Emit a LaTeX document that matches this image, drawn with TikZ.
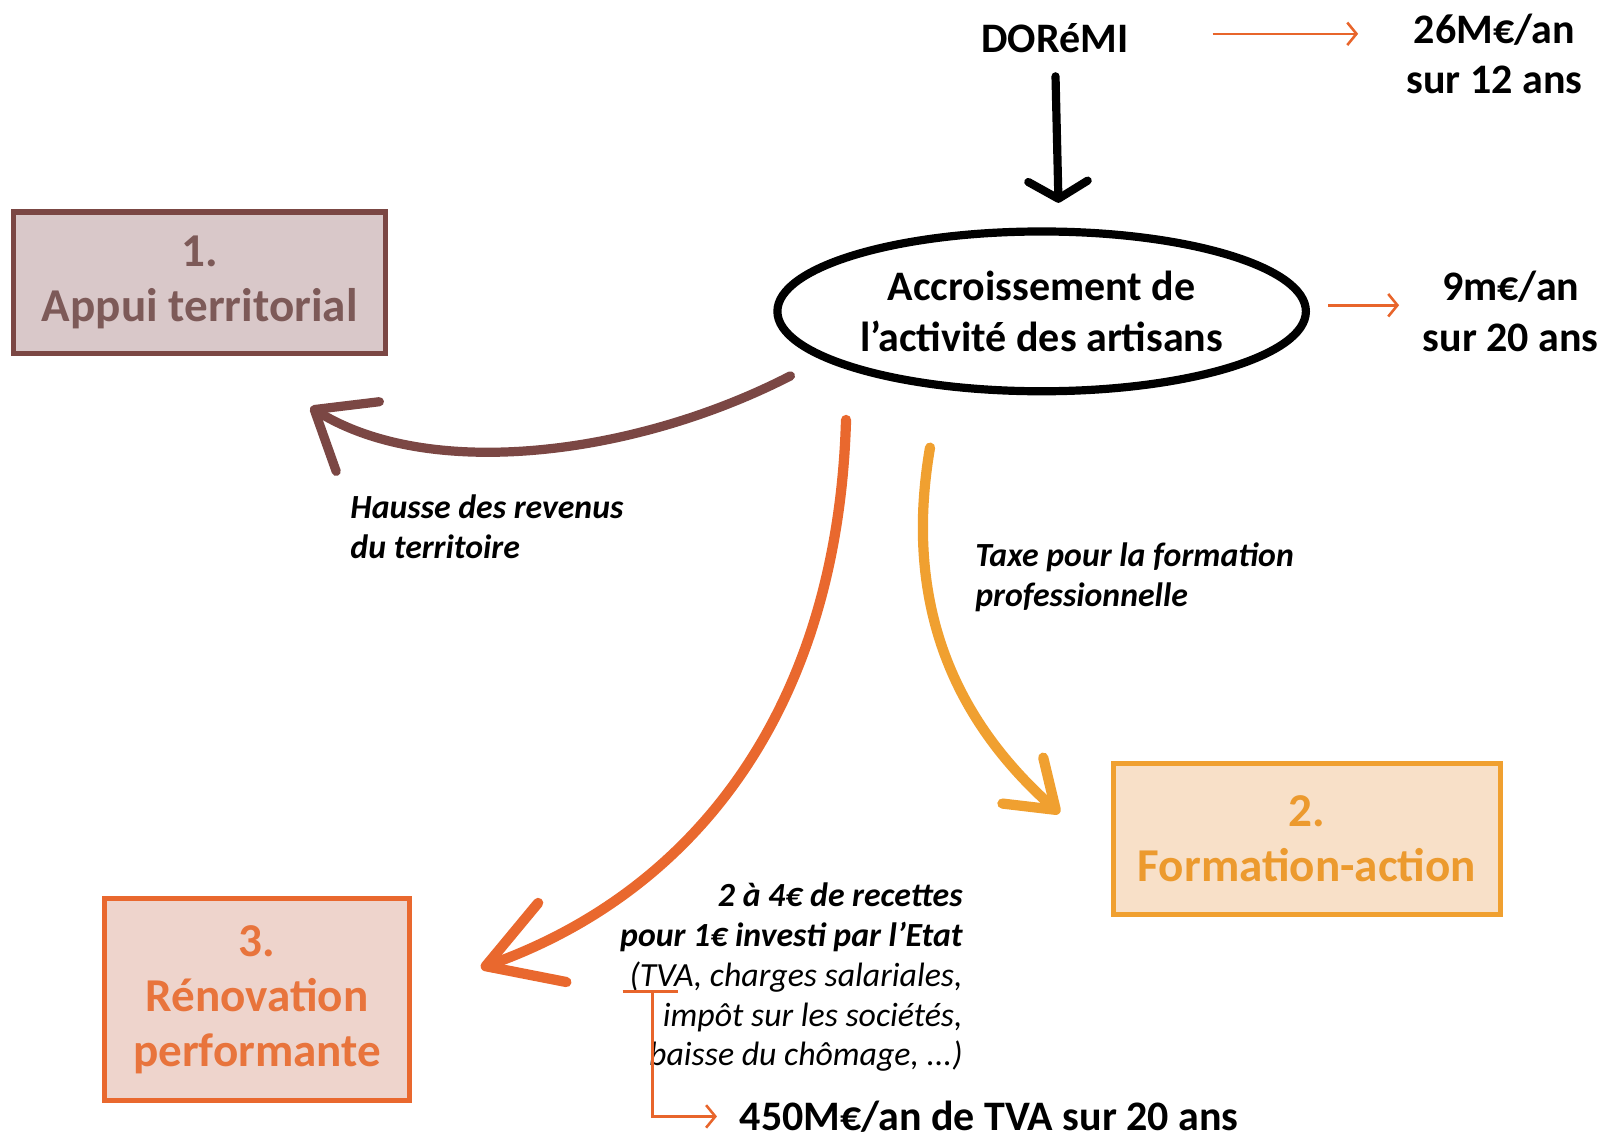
\documentclass[tikz,border=0pt]{standalone}
\usepackage{fontspec}
\setmainfont{Carlito}
\usetikzlibrary{arrows.meta,shapes.geometric}

\definecolor{appuiline}{HTML}{7B4744}
\definecolor{appuifill}{HTML}{D9C8C9}
\definecolor{appuitext}{HTML}{7D5A58}
\definecolor{formline}{HTML}{F0A030}
\definecolor{formfill}{HTML}{F8E0C8}
\definecolor{formtext}{HTML}{EC9A2E}
\definecolor{renoline}{HTML}{E9682E}
\definecolor{renofill}{HTML}{EED4CC}
\definecolor{renotext}{HTML}{E8743C}
\definecolor{gainline}{HTML}{E8652B}

\tikzset{
  box/.style={draw, line width=5pt, align=center, inner sep=0pt,
    font=\fontsize{46}{54}\selectfont\bfseries},
  amount/.style={align=center, inner sep=0pt,
    font=\fontsize{41}{49}\selectfont\bfseries},
  note/.style={inner sep=0pt, font=\fontsize{33}{39}\selectfont\bfseries\itshape},
  gain/.style={draw=gainline, line width=2.5pt, -{Straight Barb[length=9pt,width=22pt]}},
}

\begin{document}
\begin{tikzpicture}[x=1pt, y=-1pt]
\useasboundingbox (0,0) rectangle (1568,1112);

% the three boxes
\node[box, draw=appuiline, fill=appuifill, text=appuitext,
  minimum width=363pt, minimum height=138pt] (appui) at (195,276) {1.\\Appui territorial};
\node[box, draw=formline, fill=formfill, text=formtext,
  minimum width=378pt, minimum height=147pt] (form) at (1276,819) {2.\\Formation-action};
\node[box, draw=renoline, fill=renofill, text=renotext,
  minimum width=298pt, minimum height=197pt] (reno) at (251,976) {3.\\Rénovation\\performante};

% centre
\node[amount] (dor) at (1030,37) {DORéMI};
\node[ellipse, draw, line width=8pt, minimum width=516pt, minimum height=156pt,
  inner sep=0pt, align=center, font=\fontsize{41}{49}\selectfont\bfseries]
  (ell) at (1017,304) {Accroissement de\\l’activité des artisans};

% amounts
\node[amount] (dorgain) at (1459,53) {26M€/an\\sur 12 ans};
\node[amount] (artgain) at (1475,304) {9m€/an\\sur 20 ans};
\node[amount, anchor=west] (tvagain) at (722,1090) {450M€/an de TVA sur 20 ans};

% comments on the arrows
\node[note, anchor=west, align=left] (hausse) at (342,514) {Hausse des revenus\\du territoire};
\node[note, anchor=west, align=left] (taxe) at (952,564) {Taxe pour la formation\\professionnelle};
\node[note, anchor=east, align=right, font=\fontsize{33}{39}\selectfont\itshape]
  (recettes) at (940,954) {\textbf{2 à 4€ de recettes}\\\textbf{pour 1€ investi par l’Etat}\\(TVA, charges salariales,\\impôt sur les sociétés,\\baisse du chômage, ...)};

% arrows
\draw[line width=8pt, line cap=round, -{Straight Barb[length=17pt,width=58pt,round]},
  shorten <=23pt, shorten >=24pt] (dor.south) -- ([xshift=17pt]ell.north);

\draw[appuiline, line width=9pt, line cap=round, -{Straight Barb[length=50pt,width=80pt,round]}]
  ([xshift=-60pt,yshift=-5pt]ell.south west) .. controls (620,445) and (420,470) ..
  ([xshift=-76pt,yshift=-50pt]appui.south east);

\draw[renoline, line width=10pt, line cap=round, -{Straight Barb[length=69pt,width=82pt,round]}]
  ([xshift=-191pt,yshift=-24pt]ell.south) .. controls (818,690) and (680,870) ..
  ([xshift=67pt,yshift=31pt]reno.east);

\draw[formline, line width=10pt, line cap=round, -{Straight Barb[length=43pt,width=60pt,round]}]
  ([xshift=-109pt,yshift=-51pt]ell.south) .. controls (880,600) and (940,710) ..
  ([xshift=-50pt,yshift=25pt]form.west);

% gains
\draw[gain, shorten <=82pt, shorten >=47pt] ([yshift=4pt]dor.east) -- ([yshift=4pt]dor.east -| dorgain.west);
\draw[gain, shorten <=18pt, shorten >=23pt] ([yshift=6pt]ell.east) -- ([yshift=6pt]ell.east -| artgain.west);

\coordinate (tvamark) at (637,968);
\draw[gainline, line width=2.5pt] ([xshift=-29pt]tvamark) -- ([xshift=25pt]tvamark);
\draw[gain, shorten >=22pt] (tvamark) |- (tvagain.west);
\end{tikzpicture}
\end{document}
